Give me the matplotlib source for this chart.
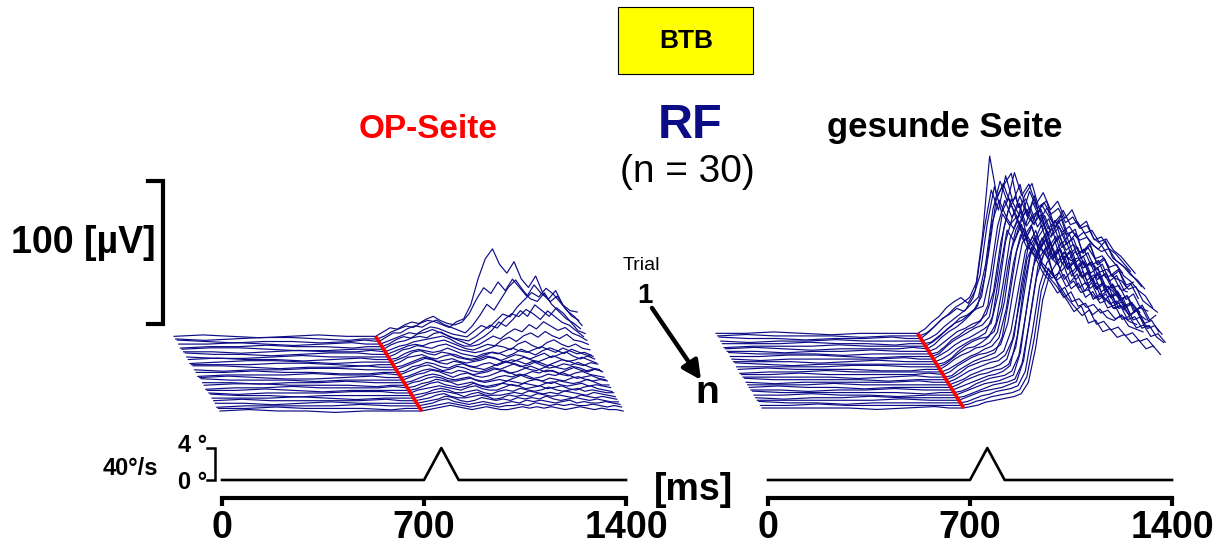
import numpy as np
import matplotlib.pyplot as plt
from matplotlib.patches import Rectangle, FancyArrowPatch

plt.rcParams['font.family'] = ['Liberation Sans', 'DejaVu Sans']

# sample times of every trial (ms)
t_ms = [0, 100, 200, 300, 400, 500, 600, 650,
        700, 725, 750, 775, 800, 825, 850, 875, 900, 925, 950, 975,
        1000, 1025, 1050, 1075, 1100, 1125, 1150, 1175, 1200, 1225, 1250,
        1275, 1300, 1325, 1350, 1375, 1400]

# EMG per trial (µV), trial 1 first - operated side
op_trials = [
    [0, 1, 0, -1, 0, 1, 0, 0, 0, 3, 6, 5, 8, 10, 9, 12, 14, 11, 9, 8, 10, 16, 26, 34, 30, 38, 32, 40, 34, 28, 36, 30, 26, 32, 22, 18, 17],
    [0, -1, 0, 1, 1, 0, -1, 0, 0, 2, 5, 7, 9, 8, 11, 13, 12, 10, 8, 12, 14, 24, 42, 56, 63, 52, 46, 54, 42, 36, 44, 32, 26, 30, 22, 16, 13],
    [1, 0, -1, 0, 0, -1, 0, 1, 0, 3, 6, 6, 9, 11, 10, 13, 15, 12, 10, 8, 6, 11, 18, 26, 22, 30, 38, 43, 36, 30, 28, 34, 26, 21, 16, 13, 9],
    [0, 0, 1, 0, -1, 0, 1, 0, 0, 2, 4, 6, 8, 7, 10, 12, 11, 9, 7, 6, 5, 9, 13, 11, 16, 21, 19, 26, 31, 36, 33, 39, 35, 29, 23, 19, 13],
    [-1, 0, 0, 1, 0, 0, -1, 0, 0, 2, 5, 7, 6, 9, 10, 12, 10, 8, 6, 5, 4, 7, 11, 15, 13, 19, 23, 21, 26, 23, 19, 25, 21, 17, 15, 11, 7],
    [0, 1, 1, 0, -1, -1, 0, 0, 0, 3, 5, 6, 8, 9, 8, 11, 12, 9, 7, 5, 3, 6, 9, 13, 19, 16, 21, 27, 23, 31, 27, 23, 29, 25, 19, 13, 11],
    [0, 0, -1, 0, 1, 0, 0, 1, 0, 2, 4, 5, 7, 8, 9, 10, 11, 9, 6, 4, 4, 5, 8, 11, 9, 13, 16, 14, 19, 16, 21, 18, 15, 17, 13, 11, 8],
    [1, 0, 0, -1, 0, 1, 1, 0, 0, 2, 4, 6, 7, 6, 8, 9, 10, 8, 6, 4, 3, 5, 7, 6, 10, 12, 9, 13, 15, 12, 16, 13, 11, 14, 10, 9, 7],
    [0, -1, -1, 0, 1, 0, 0, 0, 0, 2, 5, 6, 8, 7, 6, 8, 9, 7, 5, 4, 3, 4, 6, 8, 7, 5, 9, 11, 8, 6, 10, 12, 9, 7, 9, 6, 5],
    [0, 1, 0, 0, -1, 0, 1, 0, 0, 1, 4, 6, 7, 6, 5, 6, 8, 6, 4, 3, 2, 4, 5, 4, 6, 8, 6, 5, 7, 9, 7, 5, 8, 6, 4, 5, 3],
    [-1, 0, 1, 1, 0, -1, 0, 0, 0, 2, 4, 7, 8, 6, 5, 7, 6, 5, 3, 2, 3, 5, 7, 6, 4, 6, 9, 7, 5, 8, 10, 8, 6, 9, 7, 5, 4],
    [0, 0, 0, 1, 1, 0, -1, 0, 0, 2, 5, 6, 7, 5, 4, 6, 7, 5, 4, 3, 4, 6, 5, 3, 5, 7, 6, 4, 6, 8, 5, 7, 9, 6, 4, 6, 4],
    [1, 1, 0, -1, 0, 0, 1, 0, 0, 1, 3, 5, 7, 6, 4, 5, 6, 4, 3, 4, 5, 7, 6, 4, 3, 5, 7, 5, 4, 6, 8, 6, 4, 5, 7, 5, 3],
    [0, -1, 0, 0, 1, 1, 0, 0, 0, 2, 4, 6, 8, 7, 5, 4, 6, 5, 3, 2, 4, 5, 3, 5, 7, 6, 4, 6, 5, 3, 5, 7, 6, 4, 3, 5, 4],
    [0, 0, 1, 0, 0, -1, -1, 0, 0, 1, 4, 5, 7, 6, 4, 3, 5, 6, 4, 3, 2, 4, 6, 8, 6, 4, 5, 7, 5, 3, 4, 6, 5, 7, 5, 3, 2],
    [-1, 0, 0, 0, 1, 0, 0, 1, 0, 2, 4, 6, 7, 5, 3, 4, 6, 5, 3, 2, 3, 5, 4, 6, 8, 6, 4, 3, 5, 7, 5, 4, 6, 5, 3, 4, 3],
    [0, 1, 0, -1, -1, 0, 1, 0, 0, 1, 3, 5, 6, 5, 4, 3, 5, 4, 2, 3, 4, 6, 5, 3, 4, 6, 8, 6, 4, 5, 3, 5, 7, 5, 4, 6, 4],
    [1, 0, 0, 0, -1, 0, 0, 0, 0, 2, 4, 5, 7, 6, 4, 2, 4, 5, 3, 2, 3, 5, 7, 5, 3, 4, 6, 5, 7, 6, 4, 3, 5, 6, 4, 3, 2],
    [0, 0, -1, 0, 0, 1, 0, 0, 0, 1, 3, 5, 6, 5, 3, 2, 3, 4, 2, 1, 2, 4, 5, 4, 6, 5, 3, 4, 6, 5, 7, 5, 3, 4, 5, 3, 2],
    [0, 1, 1, 0, 0, 0, -1, 0, 0, 2, 3, 5, 6, 5, 3, 3, 4, 5, 3, 2, 3, 4, 3, 5, 7, 5, 4, 3, 5, 4, 3, 5, 6, 4, 3, 4, 3],
    [-1, 0, 0, 1, 0, 0, 0, 1, 0, 1, 3, 4, 6, 5, 4, 2, 3, 4, 2, 1, 2, 3, 5, 4, 3, 5, 6, 4, 3, 5, 4, 3, 4, 6, 4, 2, 2],
    [0, 0, 1, 0, -1, 0, 0, 0, 0, 1, 3, 5, 6, 4, 3, 2, 3, 5, 3, 2, 3, 5, 4, 3, 5, 4, 3, 5, 6, 4, 3, 4, 5, 3, 4, 3, 2],
    [0, -1, 0, 0, 0, 1, 1, 0, 0, 2, 3, 4, 5, 4, 3, 2, 4, 5, 3, 2, 2, 4, 6, 5, 3, 4, 5, 3, 4, 5, 3, 2, 4, 5, 3, 2, 1],
    [1, 0, 0, -1, 0, 0, 0, 0, 0, 1, 2, 4, 5, 4, 2, 2, 3, 4, 2, 1, 3, 4, 3, 5, 4, 3, 4, 6, 4, 3, 4, 5, 3, 4, 3, 2, 2],
    [0, 0, 0, 1, 0, -1, 0, 0, 0, 1, 3, 4, 5, 4, 3, 1, 3, 4, 2, 2, 2, 3, 4, 3, 5, 4, 3, 4, 3, 5, 4, 3, 2, 4, 3, 2, 1],
    [0, 1, 0, 0, 0, 0, 1, 0, 0, 1, 2, 4, 5, 3, 2, 2, 3, 4, 3, 1, 2, 4, 3, 4, 3, 5, 4, 3, 4, 3, 2, 4, 3, 2, 3, 2, 1],
    [0, 0, -1, 0, 1, 0, 0, 0, 0, 1, 2, 3, 5, 4, 2, 1, 2, 4, 3, 2, 3, 2, 4, 3, 4, 3, 5, 3, 2, 3, 4, 3, 2, 3, 2, 1, 1],
    [-1, 0, 0, 0, 0, 1, 0, 0, 0, 1, 2, 4, 5, 3, 2, 1, 2, 3, 2, 1, 2, 3, 2, 4, 3, 4, 3, 2, 3, 4, 2, 3, 2, 2, 3, 2, 1],
    [0, 0, 1, 0, 0, 0, -1, 0, 0, 1, 2, 3, 4, 3, 2, 1, 2, 3, 2, 1, 2, 2, 3, 2, 4, 3, 2, 3, 2, 3, 2, 2, 3, 2, 1, 2, 1],
    [0, 1, 0, 0, -1, 0, 0, 0, 0, 1, 2, 3, 4, 3, 2, 1, 2, 3, 2, 1, 1, 2, 3, 2, 3, 2, 3, 2, 1, 2, 3, 2, 1, 2, 1, 1, 0],
]

# EMG per trial (µV), trial 1 first - healthy side
healthy_trials = [
    [0, 0, 1, 0, -1, 0, 0, 0, 0, 3, 8, 12, 18, 22, 25, 21, 30, 68, 124, 96, 104, 112, 88, 94, 80, 86, 70, 74, 60, 64, 50, 54, 42, 46, 34, 30, 24],
    [0, 1, 0, 0, 0, -1, 0, 0, 0, 2, 6, 11, 15, 20, 23, 27, 38, 74, 102, 88, 112, 94, 106, 84, 98, 76, 82, 66, 72, 58, 62, 48, 52, 40, 44, 32, 28],
    [1, 0, 0, -1, 0, 0, 1, 0, 0, 4, 9, 14, 17, 21, 19, 24, 29, 52, 90, 110, 96, 116, 100, 108, 94, 102, 90, 96, 84, 90, 78, 82, 70, 66, 58, 52, 46],
    [0, -1, 0, 0, 1, 0, 0, 0, 0, 2, 5, 10, 14, 18, 22, 30, 46, 82, 108, 90, 100, 86, 78, 64, 58, 50, 44, 48, 38, 42, 34, 36, 30, 32, 26, 28, 22],
    [0, 0, 0, 1, 0, 0, -1, 0, 0, 1, 5, 9, 13, 18, 20, 24, 33, 64, 100, 112, 98, 88, 104, 112, 94, 100, 84, 90, 76, 80, 64, 70, 56, 60, 48, 52, 40],
    [-1, 0, 0, 0, 1, 0, 0, 0, 0, 3, 7, 12, 16, 18, 22, 26, 28, 50, 84, 102, 90, 100, 84, 92, 96, 82, 88, 72, 78, 64, 68, 56, 60, 48, 50, 40, 38],
    [0, 1, 0, -1, 0, 0, 0, 1, 0, 3, 8, 12, 15, 19, 24, 30, 50, 88, 104, 92, 84, 96, 76, 70, 60, 54, 48, 52, 42, 46, 36, 40, 32, 34, 28, 30, 24],
    [0, 0, -1, 0, 0, 1, 0, 0, 0, 2, 6, 10, 14, 16, 19, 21, 26, 42, 76, 98, 108, 96, 112, 100, 104, 96, 100, 90, 94, 86, 88, 78, 80, 72, 68, 62, 56],
    [1, 0, 0, 0, -1, 0, 0, 0, 0, 1, 5, 10, 13, 17, 19, 23, 34, 68, 98, 90, 96, 82, 90, 76, 84, 68, 74, 60, 66, 54, 58, 46, 50, 40, 44, 34, 36],
    [0, 0, 1, 1, 0, -1, 0, 0, 0, 2, 7, 11, 14, 17, 20, 22, 28, 54, 90, 110, 100, 92, 108, 96, 104, 90, 96, 80, 86, 72, 78, 64, 68, 56, 60, 50, 52],
    [0, -1, 0, 0, 0, 0, 1, 0, 0, 3, 6, 10, 13, 15, 18, 21, 25, 46, 82, 100, 114, 100, 94, 108, 100, 92, 104, 94, 96, 88, 90, 82, 84, 76, 72, 66, 60],
    [0, 0, 0, -1, 0, 1, 0, 0, 0, 2, 5, 9, 12, 15, 17, 20, 32, 64, 92, 84, 96, 80, 72, 62, 56, 48, 52, 42, 44, 38, 40, 34, 36, 30, 32, 28, 26],
    [1, 0, -1, 0, 0, 0, 0, 0, 0, 1, 4, 9, 13, 16, 18, 19, 23, 40, 72, 94, 104, 110, 96, 104, 90, 96, 84, 88, 74, 78, 66, 70, 58, 62, 52, 56, 46],
    [0, 0, 0, 0, 1, 1, 0, 0, 0, 2, 6, 10, 13, 14, 17, 21, 30, 58, 90, 102, 88, 98, 82, 90, 76, 82, 68, 74, 62, 66, 54, 58, 48, 52, 42, 44, 38],
    [0, 1, 0, 0, 0, -1, -1, 0, 0, 3, 7, 10, 12, 15, 16, 19, 26, 48, 84, 100, 112, 102, 108, 94, 104, 96, 100, 92, 96, 88, 84, 90, 78, 74, 70, 64, 58],
    [-1, 0, 0, 1, 0, 0, 0, 0, 0, 2, 5, 8, 11, 13, 16, 18, 24, 44, 76, 96, 86, 94, 74, 66, 60, 52, 56, 46, 48, 40, 44, 38, 36, 40, 32, 30, 28],
    [0, 0, 1, 0, 0, 0, 0, 1, 0, 2, 6, 9, 12, 14, 15, 17, 21, 36, 66, 92, 100, 114, 104, 96, 108, 98, 100, 94, 96, 90, 86, 88, 80, 76, 70, 66, 60],
    [0, 0, 0, 0, -1, 0, 1, 0, 0, 1, 5, 8, 11, 13, 15, 17, 28, 56, 88, 104, 94, 86, 96, 82, 90, 76, 80, 70, 74, 62, 66, 56, 58, 48, 52, 44, 40],
    [1, 0, 0, 0, 0, -1, 0, 0, 0, 2, 5, 9, 11, 13, 14, 16, 20, 34, 62, 90, 100, 92, 104, 88, 96, 84, 90, 78, 82, 70, 74, 64, 66, 56, 60, 50, 48],
    [0, -1, 0, 0, 0, 0, 1, 0, 0, 2, 5, 8, 10, 12, 14, 15, 19, 30, 56, 86, 98, 110, 94, 102, 86, 92, 80, 84, 72, 76, 64, 68, 58, 60, 50, 54, 44],
    [0, 0, 0, 1, 0, 0, 0, 0, 0, 2, 4, 7, 9, 11, 12, 14, 18, 34, 70, 98, 108, 92, 100, 84, 90, 76, 82, 70, 74, 62, 66, 56, 58, 48, 52, 42, 40],
    [0, 1, 0, 0, -1, 0, 0, 0, 0, 2, 5, 7, 9, 10, 12, 13, 16, 28, 60, 92, 104, 112, 98, 106, 96, 100, 94, 98, 90, 92, 84, 86, 78, 74, 68, 64, 56],
    [0, 0, -1, 0, 0, 1, 0, 0, 0, 2, 4, 6, 8, 10, 11, 13, 17, 38, 76, 100, 92, 100, 80, 72, 64, 58, 52, 56, 46, 48, 42, 44, 38, 40, 34, 36, 30],
    [1, 0, 0, 0, 0, 0, -1, 0, 0, 1, 3, 6, 8, 10, 11, 12, 15, 26, 56, 88, 102, 94, 106, 90, 98, 86, 92, 78, 84, 70, 76, 64, 68, 56, 60, 50, 54],
    [0, 0, 1, 0, 0, -1, 0, 0, 0, 2, 4, 6, 8, 9, 10, 12, 14, 30, 66, 96, 110, 98, 92, 100, 94, 96, 90, 92, 86, 88, 82, 80, 74, 76, 66, 62, 58],
    [0, -1, 0, 0, 1, 0, 0, 0, 0, 1, 3, 5, 7, 9, 10, 11, 13, 24, 52, 84, 100, 108, 96, 102, 88, 94, 82, 86, 74, 78, 66, 70, 58, 62, 52, 54, 46],
    [0, 0, 0, 0, 0, 1, 0, 0, 0, 2, 4, 6, 7, 8, 9, 11, 13, 28, 62, 94, 104, 90, 78, 70, 62, 66, 54, 56, 48, 50, 44, 46, 40, 42, 36, 38, 32],
    [1, 0, 0, -1, 0, 0, 0, 0, 0, 1, 3, 5, 6, 8, 9, 10, 12, 22, 50, 82, 98, 104, 92, 98, 86, 92, 80, 84, 72, 76, 66, 68, 58, 60, 52, 54, 48],
    [0, 0, 1, 0, 0, 0, 0, 0, 0, 1, 3, 4, 6, 7, 8, 9, 11, 20, 46, 80, 96, 88, 100, 86, 92, 80, 86, 74, 78, 68, 70, 60, 62, 54, 56, 48, 44],
    [0, 0, 0, 0, -1, 0, 1, 0, 0, 1, 2, 4, 5, 6, 7, 8, 10, 18, 42, 76, 94, 102, 90, 96, 84, 88, 76, 80, 70, 72, 62, 64, 56, 58, 50, 52, 46],
]

# eye position of the stimulus (degrees)
stim_t = [0, 700, 760, 820, 1400]
stim_deg = [0, 0, 4, 0, 0]
time_ticks = [0, 700, 1400]

W, H = 1220, 546
MS_PX = 0.288     # horizontal pixels per ms
UV_PX = 1.43      # vertical pixels per µV
DX = 5.5          # ms shift between neighbouring trials
DY = 1.8          # µV lift between neighbouring trials
NAVY = '#0c0c86'

fig = plt.figure(figsize=(W / 100, H / 100), dpi=100)


def px_axes(x0, x1, y_top, y_bottom):
    ax = fig.add_axes([x0 / W, 1 - y_bottom / H, (x1 - x0) / W, (y_bottom - y_top) / H])
    ax.patch.set_alpha(0)
    return ax


def trace_panel(x0, y0, trials):
    ax = px_axes(x0 - 200 * MS_PX, x0 + 1450 * MS_PX, y0 - 195 * UV_PX, y0 + 15 * UV_PX)
    ax.set_xlim(-200, 1450)
    ax.set_ylim(-15, 195)
    ax.axis('off')
    t = np.array(t_ms, dtype=float)
    n = len(trials)
    for k, vals in enumerate(trials):
        s = n - 1 - k
        ax.plot(t - s * DX, np.array(vals) + s * DY, color=NAVY, lw=0.85)
    s = np.arange(n)
    ax.plot(700 - s * DX, s * DY, color='#ff0000', lw=2.6, solid_capstyle='butt', zorder=5)
    return ax


def stim_panel(x0):
    k = 0.2886
    ax = px_axes(x0 - 60 * k, x0 + 1460 * k, 432, 520)
    ax.set_xlim(-60, 1460)
    ax.set_ylim(-5, 6)
    ax.plot(stim_t, stim_deg, color='black', lw=1.9)
    for side in ['top', 'right', 'left']:
        ax.spines[side].set_visible(False)
    ax.spines['bottom'].set_position(('data', -2.3))
    ax.spines['bottom'].set_bounds(0, 1400)
    ax.spines['bottom'].set_linewidth(3)
    ax.set_xticks(time_ticks)
    ax.set_xticklabels([str(v) for v in time_ticks], fontsize=27, fontweight='bold')
    ax.tick_params(axis='x', direction='out', length=6, width=3, pad=2)
    ax.set_yticks([])
    return ax


ax_op = trace_panel(220, 411, op_trials)
ax_ok = trace_panel(762, 408, healthy_trials)
st_op = stim_panel(222)
st_ok = stim_panel(768)

# 100 µV calibration bar
ax_op.plot([-250, -198, -198, -250], [161, 161, 61, 61], color='black', lw=3,
           clip_on=False, solid_joinstyle='miter')
# 4 degree bracket
st_op.plot([-52, -24, -24, -52], [4, 4, 0, 0], color='black', lw=1.8,
           clip_on=False, solid_joinstyle='miter')

# labels and headings in pixel units
ov = fig.add_axes([0, 0, 1, 1])
ov.set_xlim(0, W)
ov.set_ylim(H, 0)
ov.axis('off')

ov.add_patch(Rectangle((618, 7), 135, 67, facecolor='#ffff00', edgecolor='black', lw=0.8))
ov.text(686, 41, 'BTB', fontsize=19, fontweight='bold', ha='center', va='center')
ov.text(690, 138, 'RF', fontsize=35, fontweight='bold', color=NAVY, ha='center', va='baseline')
ov.text(687, 182, '(n = 30)', fontsize=28, ha='center', va='baseline')
ov.text(428, 138, 'OP-Seite', fontsize=24, fontweight='bold', color='#ff0000', ha='center', va='baseline')
ov.text(945, 137, 'gesunde Seite', fontsize=25, fontweight='bold', ha='center', va='baseline')
ov.text(83, 243, '100 [µV]', fontsize=27, fontweight='bold', ha='center', va='center')

ov.text(641, 270, 'Trial', fontsize=14, ha='center', va='baseline')
ov.text(645, 303, '1', fontsize=20, fontweight='bold', ha='center', va='baseline')
ov.add_patch(FancyArrowPatch((652, 308), (701, 380), arrowstyle='-|>', mutation_scale=28,
                             lw=3.2, color='black', shrinkA=0, shrinkB=0))
ov.text(707, 403, 'n', fontsize=28, fontweight='bold', ha='center', va='baseline')

ov.text(130, 475, '40°/s', fontsize=17, fontweight='bold', ha='center', va='baseline')
ov.text(178, 452, '4 °', fontsize=17, fontweight='bold', ha='left', va='baseline')
ov.text(178, 489, '0 °', fontsize=17, fontweight='bold', ha='left', va='baseline')
ov.text(694, 500, '[ms]', fontsize=27, fontweight='bold', ha='center', va='baseline')

fig.savefig('out.png', dpi=100)
